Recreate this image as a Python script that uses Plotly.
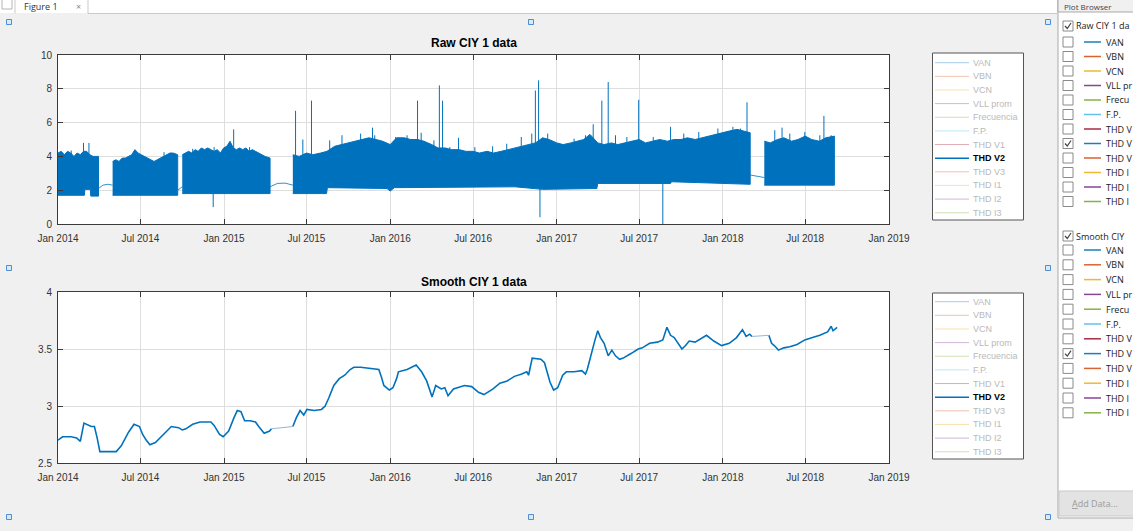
import plotly.graph_objects as go

W, H = 1133, 531

# ---------------- data ----------------
x_tick_vals = ["2014-01-01", "2014-07-01", "2015-01-01", "2015-07-01", "2016-01-01", "2016-07-01",
               "2017-01-01", "2017-07-01", "2018-01-01", "2018-07-01", "2019-01-01"]
x_tick_text = ["Jan 2014", "Jul 2014", "Jan 2015", "Jul 2015", "Jan 2016", "Jul 2016",
               "Jan 2017", "Jul 2017", "Jan 2018", "Jul 2018", "Jan 2019"]
raw_y_ticks = [0, 2, 4, 6, 8, 10]
smooth_y_ticks = [2.5, 3, 3.5, 4]
smooth_y_text = ["2.5", "3", "3.5", "4"]

legend_names = ["VAN", "VBN", "VCN", "VLL prom", "Frecuencia", "F.P.",
                "THD V1", "THD V2", "THD V3", "THD I1", "THD I2", "THD I3"]
legend_colors = ["#0072BD", "#D95319", "#EDB120", "#7E2F8E", "#77AC30", "#4DBEEE",
                 "#A2142F", "#0072BD", "#D95319", "#EDB120", "#7E2F8E", "#77AC30"]
shown_series = "THD V2"
# names as visible (truncated) in the plot browser pane
browser_names = ["VAN", "VBN", "VCN", "VLL pr", "Frecu", "F.P.",
                 "THD V", "THD V", "THD V", "THD I", "THD I", "THD I"]
browser_colors = ["#0072BD", "#D95319", "#EDB120", "#7E2F8E", "#77AC30", "#4DBEEE",
                  "#A2142F", "#0072BD", "#D95319", "#EDB120", "#7E2F8E", "#77AC30"]
browser_titles = ["Raw CIY 1 da", "Smooth CIY"]

# Raw THD V2 envelope (upper / lower edge of the dense band)
raw_a_up_dates = ["2014-01-01", "2014-01-08", "2014-01-15", "2014-01-22", "2014-01-29", "2014-02-05",
                  "2014-02-12", "2014-02-19", "2014-02-26", "2014-03-05", "2014-03-12", "2014-03-19",
                  "2014-03-26", "2014-03-31"]
raw_a_up = [4.2, 4.3, 4.1, 4.3, 4.2, 4.0, 4.2, 4.1, 4.3, 4.3, 4.1, 4.0, 4.0, 4.0]
raw_a_low_dates = ["2014-01-01", "2014-02-28", "2014-03-01", "2014-03-13", "2014-03-14", "2014-03-31"]
raw_a_low = [1.7, 1.7, 2.05, 2.05, 1.65, 1.65]

raw_b_up_dates = ["2014-05-01", "2014-05-08", "2014-05-15", "2014-05-22", "2014-05-29", "2014-06-05",
                  "2014-06-12", "2014-06-19", "2014-06-26", "2014-07-03", "2014-07-10", "2014-07-17",
                  "2014-07-24", "2014-07-31", "2014-08-07", "2014-08-14", "2014-08-21", "2014-08-28",
                  "2014-09-04", "2014-09-11", "2014-09-21"]
raw_b_up = [3.7, 3.8, 3.7, 3.9, 3.9, 4.0, 4.1, 4.4, 4.2, 4.1, 4.0, 3.9, 3.8, 3.7, 3.8, 3.9, 4.0, 4.1,
            4.2, 4.2, 4.1]
raw_b_low_dates = ["2014-05-01", "2014-09-21"]
raw_b_low = [1.7, 1.7]

raw_c_up_dates = ["2014-10-01", "2014-10-08", "2014-10-15", "2014-10-22", "2014-10-29", "2014-11-05",
                  "2014-11-12", "2014-11-19", "2014-11-26", "2014-12-03", "2014-12-10", "2014-12-17",
                  "2014-12-24", "2014-12-31", "2015-01-07", "2015-01-14", "2015-01-21", "2015-01-28",
                  "2015-02-04", "2015-02-11", "2015-02-18", "2015-02-25", "2015-03-04", "2015-03-11",
                  "2015-03-18", "2015-03-25", "2015-04-01", "2015-04-12"]
raw_c_up = [4.1, 4.2, 4.3, 4.2, 4.4, 4.3, 4.5, 4.4, 4.5, 4.4, 4.3, 4.4, 4.2, 4.5, 4.6, 4.9, 4.5, 4.4,
            4.5, 4.4, 4.5, 4.3, 4.4, 4.3, 4.2, 4.1, 4.0, 3.9]
raw_c_low_dates = ["2014-10-01", "2015-04-12"]
raw_c_low = [1.8, 1.8]

raw_d_up_dates = ["2015-06-01", "2015-06-15", "2015-07-01", "2015-07-15", "2015-08-01", "2015-08-15",
                  "2015-09-01", "2015-09-15", "2015-10-01", "2015-10-15", "2015-11-01", "2015-11-15",
                  "2015-12-01", "2015-12-15",
                  "2016-01-01", "2016-01-15", "2016-02-01", "2016-02-15", "2016-03-01", "2016-03-15",
                  "2016-04-01", "2016-04-15", "2016-05-01", "2016-05-15", "2016-06-01", "2016-06-15",
                  "2016-07-01", "2016-07-15", "2016-08-01", "2016-08-15", "2016-09-01", "2016-09-15",
                  "2016-10-01", "2016-10-15", "2016-11-01", "2016-11-15", "2016-12-01", "2016-12-15",
                  "2017-01-01", "2017-01-15", "2017-02-01", "2017-02-15", "2017-03-01", "2017-03-15",
                  "2017-04-01", "2017-04-15", "2017-05-01", "2017-05-15", "2017-06-01", "2017-06-15",
                  "2017-07-01", "2017-07-15", "2017-08-01", "2017-08-15", "2017-09-01", "2017-09-15",
                  "2017-10-01", "2017-10-15", "2017-11-01", "2017-11-15", "2017-12-01", "2017-12-15",
                  "2018-01-01", "2018-01-15", "2018-02-01", "2018-02-15", "2018-03-02"]
raw_d_up = [4.1, 4.0, 4.2, 4.1, 4.2, 4.3, 4.6, 4.7, 4.8, 4.9, 5.0, 5.1, 5.0, 4.9,
            4.7, 5.1, 5.1, 5.0, 5.0, 4.9, 4.7, 4.5, 4.5, 4.4, 4.4, 4.3, 4.3, 4.2, 4.3, 4.2, 4.3, 4.4,
            4.5, 4.6, 4.7, 4.8, 5.1, 5.0,
            4.8, 4.7, 4.8, 4.9, 5.0, 5.3, 4.8, 4.7, 4.8, 4.7, 4.8, 4.9, 5.0, 4.8, 4.9, 5.0, 4.9, 5.0,
            5.0, 5.1, 5.0, 5.1, 5.2, 5.3,
            5.4, 5.5, 5.6, 5.5, 5.4]
raw_d_low_dates = ["2015-06-01", "2015-08-14", "2015-08-16", "2015-12-25", "2016-01-01", "2016-01-10",
                   "2016-10-01", "2016-12-01", "2017-03-30", "2017-04-01", "2017-09-08", "2017-09-10",
                   "2018-01-01", "2018-03-02"]
raw_d_low = [1.8, 1.8, 2.15, 2.1, 1.95, 2.15, 2.2, 2.05, 2.1, 2.4, 2.4, 2.5, 2.4, 2.35]

raw_e_up_dates = ["2018-04-02", "2018-04-15", "2018-05-01", "2018-05-15", "2018-06-01", "2018-06-15",
                  "2018-07-01", "2018-07-15", "2018-08-01", "2018-08-15", "2018-09-03"]
raw_e_up = [4.9, 4.8, 5.0, 5.1, 4.9, 5.0, 5.2, 5.0, 4.9, 5.1, 5.2]
raw_e_low_dates = ["2018-04-02", "2018-09-03"]
raw_e_low = [2.3, 2.3]

# thin connecting lines across the data gaps
raw_gap_dates = ["2014-03-31", "2014-04-10", "2014-04-20", "2014-05-01", None,
                 "2014-09-21", "2014-10-01", None,
                 "2015-04-12", "2015-04-28", "2015-05-15", "2015-06-01", None,
                 "2018-03-02", "2018-04-02"]
raw_gap_vals = [2.1, 2.3, 2.35, 2.3, None, 2.0, 2.2, None, 2.2, 2.4, 2.42, 2.3, None, 2.9, 2.75]

# isolated spikes in the raw series
spike_dates = ["2014-02-26", "2014-03-10", "2014-12-08", "2015-01-22", "2015-06-07", "2015-06-23",
               "2015-07-12", "2015-11-23", "2016-03-01", "2016-03-09", "2016-04-18", "2016-04-25",
               "2016-11-15", "2016-11-22", "2016-11-25", "2017-03-22", "2017-04-10", "2017-04-24",
               "2017-06-30", "2017-08-22", "2018-02-23", "2018-05-11", "2018-08-11"]
spike_vals = [4.8, 4.8, 1.0, 5.6, 6.7, 5.0, 7.3, 5.7, 7.3, 5.4, 8.2, 7.3,
              7.9, 8.5, 0.4, 5.9, 7.3, 8.4, 7.35, 0.0, 7.2, 5.7, 6.4]
# smaller daily peaks that make the ragged top of the band
minor_peak_dates = ["2014-01-30", "2014-06-20", "2014-08-22", "2014-10-24", "2014-12-10", "2015-02-26",
                    "2015-08-21", "2015-09-17", "2015-10-28", "2015-11-28", "2016-01-13", "2016-02-07",
                    "2016-04-06", "2016-05-11", "2016-05-30", "2016-07-05", "2016-08-13", "2016-09-13",
                    "2016-10-15", "2016-11-07", "2016-12-12", "2017-02-08", "2017-03-05", "2017-05-10",
                    "2017-06-04", "2017-08-01", "2017-09-08", "2017-10-07", "2017-11-09", "2017-12-21",
                    "2018-01-23", "2018-02-09", "2018-04-25", "2018-05-28", "2018-06-30", "2018-08-02",
                    "2018-08-27"]
minor_peak_vals = [4.35, 4.35, 4.25, 4.45, 4.55, 4.55,
                   4.95, 5.25, 5.35, 5.25, 5.15, 5.25,
                   4.95, 4.55, 5.1, 4.55, 4.6, 4.75,
                   5.15, 5.35, 5.35, 5.05, 5.25, 5.25,
                   5.15, 5.15, 5.75, 5.35, 5.45, 5.65,
                   5.75, 5.65, 5.55, 5.35, 5.45, 5.25,
                   5.25]
spike_base = 3.0

# Smoothed THD V2
smooth_1_dates = ["2014-01-01", "2014-01-11", "2014-01-30", "2014-02-11", "2014-02-19", "2014-02-27",
                  "2014-03-15", "2014-03-22", "2014-03-28", "2014-04-03", "2014-05-09", "2014-05-20",
                  "2014-06-05", "2014-06-17", "2014-06-29", "2014-07-06", "2014-07-14", "2014-07-22",
                  "2014-08-03", "2014-08-15", "2014-08-30", "2014-09-07", "2014-09-23", "2014-10-01",
                  "2014-10-09", "2014-10-24", "2014-11-09", "2014-12-03", "2014-12-10", "2014-12-22",
                  "2014-12-30", "2015-01-11", "2015-01-23", "2015-01-30", "2015-02-07", "2015-02-15",
                  "2015-02-27", "2015-03-11", "2015-03-18", "2015-03-30", "2015-04-11", "2015-04-15"]
smooth_1_vals = [2.70, 2.73, 2.73, 2.72, 2.69, 2.85, 2.82, 2.82, 2.72, 2.60, 2.60, 2.65,
                 2.77, 2.84, 2.82, 2.75, 2.70, 2.66, 2.68, 2.73, 2.79, 2.82, 2.81, 2.79,
                 2.80, 2.84, 2.86, 2.86, 2.83, 2.75, 2.73, 2.78, 2.90, 2.96, 2.95, 2.87,
                 2.87, 2.86, 2.82, 2.76, 2.78, 2.80]
smooth_2_dates = ["2015-06-01", "2015-06-09", "2015-06-17", "2015-06-25", "2015-07-02", "2015-07-18",
                  "2015-08-03", "2015-08-11", "2015-08-19", "2015-08-30", "2015-09-11", "2015-09-23",
                  "2015-10-05", "2015-10-13", "2015-10-28", "2015-11-21", "2015-12-07", "2015-12-13",
                  "2015-12-18", "2015-12-30", "2016-01-07", "2016-01-15", "2016-01-19", "2016-02-07",
                  "2016-02-27", "2016-03-10", "2016-03-21", "2016-04-02", "2016-04-10", "2016-04-22",
                  "2016-04-30", "2016-05-07", "2016-05-19", "2016-06-12", "2016-06-28", "2016-07-13",
                  "2016-07-25", "2016-08-14", "2016-08-29", "2016-09-14", "2016-09-30", "2016-10-16",
                  "2016-10-27", "2016-10-31", "2016-11-08", "2016-11-27", "2016-12-05", "2016-12-17",
                  "2016-12-25", "2017-01-03", "2017-01-14", "2017-01-22", "2017-02-08", "2017-02-25",
                  "2017-03-05", "2017-03-09", "2017-03-17", "2017-03-26", "2017-04-01", "2017-04-07",
                  "2017-04-15", "2017-04-24", "2017-05-02", "2017-05-10", "2017-05-19", "2017-05-27",
                  "2017-06-13", "2017-06-29", "2017-07-08", "2017-07-24", "2017-08-10", "2017-08-22",
                  "2017-08-31", "2017-09-08", "2017-09-16", "2017-09-25", "2017-10-03", "2017-10-11",
                  "2017-10-19", "2017-11-01", "2017-11-09", "2017-11-26", "2017-12-12", "2017-12-29",
                  "2018-01-15", "2018-01-31", "2018-02-13", "2018-02-21", "2018-03-01", "2018-03-06"]
smooth_2_vals = [2.82, 2.90, 2.96, 2.92, 2.97, 2.96, 2.97, 3.00, 3.07, 3.18, 3.24, 3.27,
                 3.32, 3.34, 3.34, 3.33, 3.32, 3.25, 3.18, 3.14, 3.16, 3.24, 3.30, 3.32,
                 3.36, 3.30, 3.22, 3.08, 3.18, 3.15, 3.16, 3.09, 3.15, 3.18, 3.17, 3.12,
                 3.10, 3.15, 3.20, 3.22, 3.26, 3.28, 3.30, 3.27, 3.42, 3.41, 3.38, 3.21,
                 3.14, 3.16, 3.27, 3.30, 3.30, 3.31, 3.28, 3.32, 3.45, 3.58, 3.66, 3.60,
                 3.55, 3.44, 3.49, 3.44, 3.41, 3.42, 3.46, 3.50, 3.51, 3.55, 3.56, 3.58,
                 3.69, 3.62, 3.60, 3.55, 3.50, 3.53, 3.57, 3.56, 3.58, 3.62, 3.57, 3.53,
                 3.55, 3.60, 3.67, 3.61, 3.63, 3.61]
smooth_3_dates = ["2018-04-12", "2018-04-18", "2018-04-24", "2018-05-03", "2018-05-15", "2018-05-28",
                  "2018-06-13", "2018-06-30", "2018-07-17", "2018-08-02", "2018-08-19", "2018-08-27",
                  "2018-08-31", "2018-09-09"]
smooth_3_vals = [3.62, 3.55, 3.53, 3.49, 3.51, 3.52, 3.54, 3.58, 3.60, 3.62, 3.65, 3.70, 3.66, 3.69]

# ---------------- styling helpers ----------------
BLUE = "#0072BD"
AXC = "#3a3a3a"
GRID = "#dedede"
FONT = "Liberation Sans"
UIFONT = "Open Sans"


def px(x):
    return x / W


def py(y):
    return 1 - y / H


fig = go.Figure()

# raw band segments
segments = [
    (raw_a_up_dates, raw_a_up, raw_a_low_dates, raw_a_low),
    (raw_b_up_dates, raw_b_up, raw_b_low_dates, raw_b_low),
    (raw_c_up_dates, raw_c_up, raw_c_low_dates, raw_c_low),
    (raw_d_up_dates, raw_d_up, raw_d_low_dates, raw_d_low),
    (raw_e_up_dates, raw_e_up, raw_e_low_dates, raw_e_low),
]
for ud, uv, ld, lv in segments:
    fig.add_trace(go.Scatter(x=ud + ld[::-1], y=uv + lv[::-1], fill="toself", fillcolor=BLUE,
                             mode="lines", line=dict(color=BLUE, width=1),
                             xaxis="x", yaxis="y", hoverinfo="skip"))

fig.add_trace(go.Scatter(x=raw_gap_dates, y=raw_gap_vals, mode="lines",
                         line=dict(color=BLUE, width=0.8), xaxis="x", yaxis="y",
                         connectgaps=False, hoverinfo="skip"))

for dates, vals in [(minor_peak_dates, minor_peak_vals), (spike_dates, spike_vals)]:
    sx, sy = [], []
    for d, v in zip(dates, vals):
        sx += [d, d, None]
        sy += [spike_base, v, None]
    fig.add_trace(go.Scatter(x=sx, y=sy, mode="lines", line=dict(color=BLUE, width=1),
                             xaxis="x", yaxis="y", connectgaps=False, hoverinfo="skip"))

# smooth series
for d, v in [(smooth_1_dates, smooth_1_vals), (smooth_2_dates, smooth_2_vals),
             (smooth_3_dates, smooth_3_vals)]:
    fig.add_trace(go.Scatter(x=d, y=v, mode="lines", line=dict(color=BLUE, width=1.6),
                             xaxis="x2", yaxis="y2", hoverinfo="skip"))
for a_d, a_v, b_d, b_v in [(smooth_1_dates, smooth_1_vals, smooth_2_dates, smooth_2_vals),
                           (smooth_2_dates, smooth_2_vals, smooth_3_dates, smooth_3_vals)]:
    fig.add_trace(go.Scatter(x=[a_d[-1], b_d[0]], y=[a_v[-1], b_v[0]], mode="lines",
                             line=dict(color="#8fb8dc", width=1), xaxis="x2", yaxis="y2",
                             hoverinfo="skip"))

# ---------------- axes ----------------
xdom = [px(58), px(889)]
common_x = dict(domain=xdom, type="date", range=["2014-01-01", "2019-01-01"],
                tickvals=x_tick_vals, ticktext=x_tick_text, showgrid=True, gridcolor=GRID,
                gridwidth=1, ticks="inside", ticklen=5, tickcolor=AXC, showline=True,
                linecolor=AXC, linewidth=1, mirror="ticks", zeroline=False,
                tickfont=dict(family=FONT, size=10, color="#333333"), ticklabelstandoff=5)
common_y = dict(showgrid=True, gridcolor=GRID, gridwidth=1, ticks="inside", ticklen=5,
                tickcolor=AXC, showline=True, linecolor=AXC, linewidth=1, mirror="ticks",
                zeroline=False, tickfont=dict(family=FONT, size=10, color="#333333"),
                ticklabelstandoff=3)

fig.update_layout(
    width=W, height=H,
    margin=dict(l=0, r=0, t=0, b=0, pad=0, autoexpand=False),
    paper_bgcolor="#f0f0f0", plot_bgcolor="#ffffff",
    showlegend=False,
    xaxis=dict(anchor="y", **common_x),
    yaxis=dict(anchor="x", domain=[py(224), py(55)], range=[0, 10], tickvals=raw_y_ticks,
               **common_y),
    xaxis2=dict(anchor="y2", **common_x),
    yaxis2=dict(anchor="x2", domain=[py(463), py(292)], range=[2.5, 4], tickvals=smooth_y_ticks,
                ticktext=smooth_y_text, **common_y),
)

shapes = []
ann = []


def rect(x0, y0, x1, y1, fill=None, line="#000", lw=1):
    shapes.append(dict(type="rect", xref="paper", yref="paper", x0=px(x0), x1=px(x1),
                       y0=py(y1), y1=py(y0), fillcolor=fill or "rgba(0,0,0,0)",
                       line=dict(color=line, width=lw), layer="above"))


def hline(x0, x1, y, color, lw=1, opacity=1.0):
    shapes.append(dict(type="line", xref="paper", yref="paper", x0=px(x0), x1=px(x1),
                       y0=py(y), y1=py(y), line=dict(color=color, width=lw), opacity=opacity,
                       layer="above"))


def vline(x, y0, y1, color, lw=1):
    shapes.append(dict(type="line", xref="paper", yref="paper", x0=px(x), x1=px(x),
                       y0=py(y0), y1=py(y1), line=dict(color=color, width=lw), layer="above"))


def text(x, y, s, size=9, color="#000", anchor="left", family=FONT):
    ann.append(dict(xref="paper", yref="paper", x=px(x), y=py(y), text=s, showarrow=False,
                    xanchor=anchor, yanchor="middle",
                    font=dict(family=family, size=size, color=color)))


# titles
text(473.5, 43, "<b>Raw CIY 1 data</b>", size=12, anchor="center")
text(473.5, 281.5, "<b>Smooth CIY 1 data</b>", size=12, anchor="center")

# legends (one per axes)
for top, bottom, first in [(53, 220, 62.7), (293, 459, 301.7)]:
    rect(932.5, top, 1023.5, bottom, fill="#ffffff", line="#555555", lw=1)
    for i, (nm, col) in enumerate(zip(legend_names, legend_colors)):
        yy = first + i * 13.64
        if nm == shown_series:
            hline(935, 969, yy, col, lw=1.5)
            text(971, yy, "<b>" + nm + "</b>", size=9, color="#000000")
        else:
            hline(935, 969, yy, col, lw=1, opacity=0.35)
            text(971, yy, nm, size=9, color="#b9b9b9")

# figure tab strip
rect(0, -2, 1057, 13, fill="#ffffff", line="rgba(0,0,0,0)", lw=0)
hline(88, 1057, 13.5, "#c9c9c9")
vline(15, -2, 13.5, "#c9c9c9")
vline(88, -2, 13.5, "#c9c9c9")
rect(2, -2, 12, 9, fill="#ffffff", line="#b5b5b5")
text(22, 6, "Figure 1", size=9, color="#333", family=UIFONT)
text(74, 6, "×", size=9, color="#888", family=UIFONT)

# selection handles
for hx, hy in [(9, 22), (531, 22), (1048, 22), (9, 268), (1048, 268), (9, 517), (531, 517),
               (1048, 517)]:
    rect(hx - 2.5, hy - 2.5, hx + 2.5, hy + 2.5, fill="#dce9f7", line="#4b8fd6", lw=1)

# plot browser panel
rect(1058, 0, 1140, 518, fill="#ffffff", line="#a9a9a9")
rect(1058, -2, 1140, 12, fill="#f0f0f0", line="#a9a9a9")
text(1062, 6, "Plot Browser", size=8, color="#444", family=UIFONT)
rect(1059, 491, 1140, 516, fill="#e3e3e3", line="#c9c9c9")
text(1070, 503, "<u>A</u>dd Data...", size=9, color="#9a9a9a", family=UIFONT)


def checkbox(x, y, checked):
    rect(x, y - 5, x + 10, y + 5, fill="#ffffff", line="#8a8a8a")
    if checked:
        shapes.append(dict(type="path", xref="paper", yref="paper",
                           path="M {} {} L {} {} L {} {}".format(
                               px(x + 2), py(y), px(x + 4.3), py(y + 2.5), px(x + 8), py(y - 3)),
                           line=dict(color="#444", width=1.2), layer="above"))


for head_y, first, step, title in [(26, 42, 14.5, browser_titles[0]),
                                   (236, 250, 14.8, browser_titles[1])]:
    checkbox(1063, head_y, True)
    text(1074, head_y, title, size=9, color="#222", family=UIFONT)
    for i, (nm, col) in enumerate(zip(browser_names, browser_colors)):
        yy = first + i * step
        checkbox(1063, yy, legend_names[i] == shown_series)
        hline(1084, 1101, yy, col, lw=1.5, opacity=0.9)
        text(1104, yy, nm, size=9, color="#222", family=UIFONT)

fig.update_layout(shapes=shapes, annotations=ann)

fig.write_html("out.html", config={"displayModeBar": False, "staticPlot": True},
               post_script="document.body.style.margin='0';document.body.style.overflow='hidden';")
